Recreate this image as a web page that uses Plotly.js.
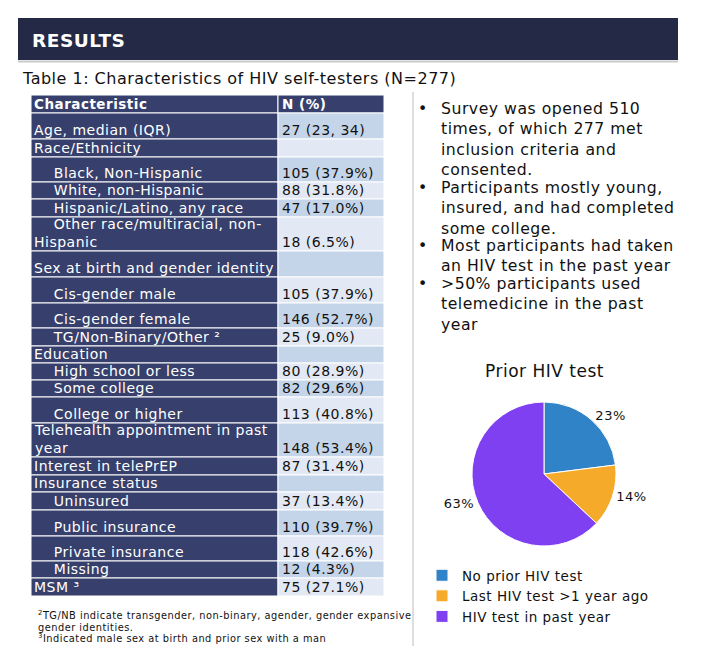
<!DOCTYPE html>
<html>
<head>
<meta charset="utf-8">
<script src="https://cdn.plot.ly/plotly-3.0.1.min.js"></script>
<style>
html,body{margin:0;padding:0;background:#ffffff;}
svg text{letter-spacing:0.5px;}
</style>
</head>
<body>
<div id="chart" style="width:722px;height:658px;"></div>
<script>
// ---------------- DATA ----------------
const sectionTitle = "RESULTS";
const tableCaption = "Table 1: Characteristics of HIV self-testers (N=277)";
const tableHeader = ["Characteristic", "N (%)"];
const characteristics = [
  "Age, median (IQR)",
  "Race/Ethnicity",
  "Black, Non-Hispanic",
  "White, non-Hispanic",
  "Hispanic/Latino, any race",
  "Other race/multiracial, non-<br>Hispanic",
  "Sex at birth and gender identity",
  "Cis-gender male",
  "Cis-gender female",
  "TG/Non-Binary/Other \u00B2",
  "Education",
  "High school or less",
  "Some college",
  "College or higher",
  "Telehealth appointment in past<br>year",
  "Interest in telePrEP",
  "Insurance status",
  "Uninsured",
  "Public insurance",
  "Private insurance",
  "Missing",
  "MSM \u00B3"
];
const nPercent = [
  "27 (23, 34)", "", "105 (37.9%)", "88 (31.8%)", "47 (17.0%)", "18 (6.5%)",
  "", "105 (37.9%)", "146 (52.7%)", "25 (9.0%)",
  "", "80 (28.9%)", "82 (29.6%)", "113 (40.8%)",
  "148 (53.4%)", "87 (31.4%)",
  "", "37 (13.4%)", "110 (39.7%)", "118 (42.6%)", "12 (4.3%)",
  "75 (27.1%)"
];
const isSubItem = [false,false,true,true,true,true,false,true,true,true,false,true,true,true,false,false,false,true,true,true,true,false];

const bulletPoints = [
  "Survey was opened 510<br>times, of which 277 met<br>inclusion criteria and<br>consented.",
  "Participants mostly young,<br>insured, and had completed<br>some college.",
  "Most participants had taken<br>an HIV test in the past year",
  ">50% participants used<br>telemedicine in the past<br>year"
];

const pieTitle = "Prior HIV test";
const pieLabels = ["No prior HIV test", "Last HIV test >1 year ago", "HIV test in past year"];
const piePercent = [23, 14, 63];

const footnotes = [
  "<sup>2</sup>TG/NB indicate transgender, non-binary, agender, gender expansive",
  "gender identities.",
  "<sup>3</sup>Indicated male sex at birth and prior sex with a man"
];

// ---------------- LAYOUT GEOMETRY (pixels) ----------------
const W = 722, H = 658;
const px = x => x / W;
const py = y => 1 - y / H;
const FONT = "DejaVu Sans, Verdana, sans-serif";
const NAVY = "#37406c";
const BAR = "#242a46";
const CELL_A = "#c5d5e9";
const CELL_B = "#e3e9f4";

const tbl = { left: 31, split: 278, right: 384, headTop: 95, headBottom: 113 };
// bottom edge of each body row
const rowBottom = [139,157,182,199,217,251,277,303,328,346,363,380,397,423,457,475,492,510,536,561,578,596];
const bulletTops = [97, 176, 233.5, 272];

const shapes = [];
const annotations = [];

function note(opts) {
  annotations.push(Object.assign({xref:"paper", yref:"paper", showarrow:false, align:"left", xanchor:"left"}, opts));
}

// Title bar
shapes.push({type:"rect", xref:"paper", yref:"paper", x0:px(18), x1:px(678), y0:py(60), y1:py(18),
  fillcolor:BAR, line:{width:0}});
shapes.push({type:"line", xref:"paper", yref:"paper", x0:px(18), x1:px(678), y0:py(61.5), y1:py(61.5),
  line:{color:"#c9c9c9", width:2}});
note({x:px(30), y:py(40), yanchor:"middle",
  text:"<b>"+sectionTitle+"</b>", font:{family:FONT, size:18.5, color:"#ffffff"}});

// Caption
note({x:px(20), y:py(78), yanchor:"middle",
  text:tableCaption, font:{family:FONT, size:16, color:"#111111"}});

// Table header
shapes.push({type:"rect", xref:"paper", yref:"paper", x0:px(tbl.left), x1:px(tbl.split), y0:py(tbl.headBottom), y1:py(tbl.headTop),
  fillcolor:NAVY, line:{color:"#ffffff", width:1}});
shapes.push({type:"rect", xref:"paper", yref:"paper", x0:px(tbl.split), x1:px(tbl.right), y0:py(tbl.headBottom), y1:py(tbl.headTop),
  fillcolor:NAVY, line:{color:"#ffffff", width:1}});
note({x:px(tbl.left+1), y:py(tbl.headBottom), yanchor:"bottom", yshift:-1,
  text:"<b>"+tableHeader[0]+"</b>", font:{family:FONT, size:13.5, color:"#ffffff"}});
note({x:px(tbl.split+2), y:py(tbl.headBottom), yanchor:"bottom", yshift:-1,
  text:"<b>"+tableHeader[1]+"</b>", font:{family:FONT, size:13.5, color:"#ffffff"}});

// Table body
const INDENT = "\u00A0\u00A0\u00A0\u00A0";
characteristics.forEach((label, i) => {
  const top = i === 0 ? tbl.headBottom : rowBottom[i-1];
  const bot = rowBottom[i];
  shapes.push({type:"rect", xref:"paper", yref:"paper", x0:px(tbl.left), x1:px(tbl.split), y0:py(bot), y1:py(top),
    fillcolor:NAVY, line:{color:"#ffffff", width:1}});
  shapes.push({type:"rect", xref:"paper", yref:"paper", x0:px(tbl.split), x1:px(tbl.right), y0:py(bot), y1:py(top),
    fillcolor:(i % 2 === 0 ? CELL_A : CELL_B), line:{color:"#ffffff", width:1}});
  note({x:px(tbl.left+1), y:py(bot), yanchor:"bottom", yshift:-1,
    text:(isSubItem[i] ? INDENT : "") + label, font:{family:FONT, size:14, color:"#ffffff"}});
  if (nPercent[i]) {
    note({x:px(tbl.split+2), y:py(bot), yanchor:"bottom", yshift:-1,
      text:nPercent[i], font:{family:FONT, size:14, color:"#111111"}});
  }
});

// Divider
shapes.push({type:"line", xref:"paper", yref:"paper", x0:px(413), x1:px(413), y0:py(646), y1:py(92),
  line:{color:"#bdbdbd", width:1}});

// Bullets
bulletPoints.forEach((t, i) => {
  note({x:px(416), y:py(bulletTops[i]), yanchor:"top",
    text:"\u2022", font:{family:FONT, size:15.7, color:"#111111"}});
  note({x:px(438.5), y:py(bulletTops[i]), yanchor:"top",
    text:t, font:{family:FONT, size:15.7, color:"#111111"}});
});

// Pie title
note({x:px(544), y:py(371), xanchor:"center", yanchor:"middle", align:"center",
  text:pieTitle, font:{family:FONT, size:17, color:"#111111"}});

// Footnotes
footnotes.forEach((t, i) => {
  note({x:px(36), y:py(623 + i*11.5), yanchor:"bottom",
    text:t, font:{family:FONT, size:9.8, color:"#111111"}});
});

const pie = {
  type:"pie",
  labels:pieLabels,
  values:piePercent,
  sort:false,
  direction:"clockwise",
  rotation:0,
  textinfo:"percent",
  textposition:"outside",
  textfont:{family:FONT, size:13, color:"#111111"},
  marker:{colors:["#3183c8", "#f5aa2a", "#7f40f2"], line:{color:"#ffffff", width:1}},
  domain:{x:[px(472), px(616)], y:[py(546), py(402)]},
  hoverinfo:"none"
};

const layout = {
  width:W, height:H,
  margin:{l:0, r:0, t:0, b:0},
  paper_bgcolor:"#ffffff",
  plot_bgcolor:"#ffffff",
  font:{family:FONT, color:"#111111"},
  showlegend:true,
  legend:{x:px(422), y:py(560), xanchor:"left", yanchor:"top", orientation:"v",
    font:{family:FONT, size:13.5, color:"#111111"}, bgcolor:"rgba(0,0,0,0)", tracegroupgap:0},
  shapes:shapes,
  annotations:annotations
};

Plotly.newPlot("chart", [pie], layout, {displayModeBar:false, staticPlot:true});
</script>
</body>
</html>
